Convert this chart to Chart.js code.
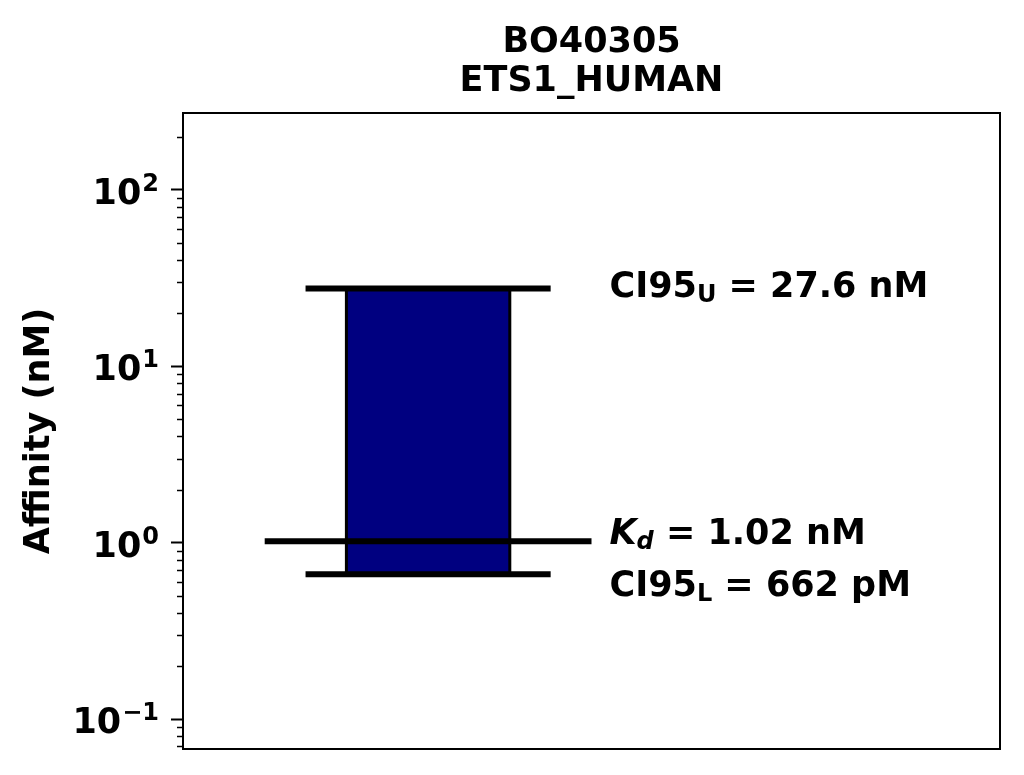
<!DOCTYPE html>
<html>
<head>
<meta charset="utf-8">
<script src="https://cdn.jsdelivr.net/npm/chart.js@4.4.1/dist/chart.umd.min.js"></script>
<style>
    html, body { margin: 0; padding: 0; background: #fff; }
    #wrap { width: 1024px; height: 775px; }
</style>
</head>
<body>
<div id="wrap"><canvas id="grafico"></canvas></div>
<script>
// Dados do gráfico
const titulo = ['BO40305', 'ETS1_HUMAN'];
const eixoY = 'Affinity (nM)';
const estatNomes = ['CI95_U', 'Kd', 'CI95_L'];
const estatValores = [27.6, 1.02, 0.662];          // nM
const estatTextos = [' = 27.6 nM', ' = 1.02 nM', ' = 662 pM'];
const ticksMaiores = [0.1, 1, 10, 100];
const ticksExpoentes = ['\u22121', '0', '1', '2'];
const limitesY = [0.0676, 273];

const FONTE = '"DejaVu Sans", sans-serif';
const AZUL = '#000080';

const [ciSup, kd, ciInf] = estatValores;

// Linha horizontal simples (desenhada por cima da barra)
function linha(x0, x1, y, largura) {
    return {
        data: [{ x: x0, y: y }, { x: x1, y: y }],
        borderColor: '#000',
        borderWidth: largura,
        pointRadius: 0,
        fill: false,
        borderCapStyle: 'butt',
        order: 0
    };
}

// Ticks menores, rótulos 10^n, moldura, título e anotações
const extras = {
    id: 'extras',
    afterDraw(chart) {
        const ctx = chart.ctx;
        const a = chart.chartArea;
        const y = chart.scales.y;
        const x = chart.scales.x;

        ctx.save();
        ctx.strokeStyle = '#000';
        ctx.fillStyle = '#000';
        ctx.lineWidth = 1.5;
        for (let d = -2; d <= 2; d++) {
            for (let m = 2; m <= 9; m++) {
                const v = m * Math.pow(10, d);
                if (v < limitesY[0] || v > limitesY[1]) continue;
                const py = Math.round(y.getPixelForValue(v)) + 0.5;
                ctx.beginPath();
                ctx.moveTo(a.left - 6, py);
                ctx.lineTo(a.left, py);
                ctx.stroke();
            }
        }

        // rótulos dos ticks maiores com expoente
        ctx.textBaseline = 'alphabetic';
        ctx.textAlign = 'right';
        ticksMaiores.forEach((v, i) => {
            const base = y.getPixelForValue(v) + 14;
            const dir = a.left - 24;
            ctx.font = 'bold 24px ' + FONTE;
            const w = ctx.measureText(ticksExpoentes[i]).width;
            ctx.fillText(ticksExpoentes[i], dir, base - 13);
            ctx.font = 'bold 35px ' + FONTE;
            ctx.fillText('10', dir - w - 1, base);
        });

        // moldura
        ctx.lineWidth = 2;
        ctx.strokeRect(a.left, a.top, a.right - a.left, a.bottom - a.top);

        // título centrado sobre a área do gráfico
        ctx.textAlign = 'center';
        ctx.font = 'bold 35px ' + FONTE;
        const cx0 = (a.left + a.right) / 2;
        ctx.fillText(titulo[0], cx0, 52);
        ctx.fillText(titulo[1], cx0, 91);

        // textos das estatísticas
        ctx.textAlign = 'left';
        const px = x.getPixelForValue(0.522);
        const desloc = [8, 3, 22];
        estatValores.forEach((v, i) => {
            const base = y.getPixelForValue(v) + desloc[i];
            let cx = px;
            let principal, sub, italico;
            if (estatNomes[i] === 'Kd') {
                principal = 'K'; sub = 'd'; italico = true;
            } else {
                principal = 'CI95'; sub = estatNomes[i].slice(-1); italico = false;
            }
            ctx.font = (italico ? 'italic ' : '') + 'bold 35px ' + FONTE;
            ctx.fillText(principal, cx, base);
            cx += ctx.measureText(principal).width;
            ctx.font = (italico ? 'italic ' : '') + 'bold 24px ' + FONTE;
            ctx.fillText(sub, cx, base + 5);
            cx += ctx.measureText(sub).width;
            ctx.font = 'bold 35px ' + FONTE;
            ctx.fillText(estatTextos[i], cx, base);
        });
        ctx.restore();
    }
};

const ctx = document.getElementById('grafico').getContext('2d');
new Chart(ctx, {
    type: 'line',
    data: {
        datasets: [
            linha(0.15, 0.45, ciSup, 6),
            linha(0.1, 0.5, kd, 6),
            linha(0.15, 0.45, ciInf, 6),
            // contorno da barra
            {
                data: [
                    { x: 0.2, y: ciInf }, { x: 0.2, y: ciSup },
                    { x: 0.4, y: ciSup }, { x: 0.4, y: ciInf },
                    { x: 0.2, y: ciInf }
                ],
                borderColor: '#000',
                borderWidth: 3,
                pointRadius: 0,
                fill: false,
                order: 5
            },
            // barra (preenchimento entre topo e base)
            {
                data: [{ x: 0.2, y: ciSup }, { x: 0.4, y: ciSup }],
                borderWidth: 0,
                pointRadius: 0,
                backgroundColor: AZUL,
                fill: '+1',
                order: 10
            },
            {
                data: [{ x: 0.2, y: ciInf }, { x: 0.4, y: ciInf }],
                borderWidth: 0,
                pointRadius: 0,
                fill: false,
                order: 10
            }
        ]
    },
    options: {
        responsive: true,
        maintainAspectRatio: false,
        animation: false,
        layout: { padding: { left: 0, right: 24, top: 113, bottom: 26 } },
        plugins: {
            legend: { display: false },
            tooltip: { enabled: false },
            title: { display: false }
        },
        scales: {
            x: {
                type: 'linear',
                display: false,
                min: 0,
                max: 1
            },
            y: {
                type: 'logarithmic',
                min: limitesY[0],
                max: limitesY[1],
                afterBuildTicks: (s) => { s.ticks = ticksMaiores.map(v => ({ value: v })); },
                afterFit: (s) => { s.width = 183; },
                ticks: {
                    color: '#000',
                    font: { family: FONTE, size: 31, weight: 'bold' },
                    padding: 6,
                    autoSkip: false,
                    callback: () => ''
                },
                grid: {
                    drawOnChartArea: false,
                    drawTicks: true,
                    tickLength: 12,
                    tickWidth: 2,
                    color: '#000'
                },
                border: { display: true, color: '#000', width: 2 },
                title: {
                    display: true,
                    text: eixoY,
                    color: '#000',
                    font: { family: FONTE, size: 35, weight: 'bold' },
                    padding: { top: 19, bottom: 0 }
                }
            }
        }
    },
    plugins: [extras]
});
</script>
</body>
</html>
